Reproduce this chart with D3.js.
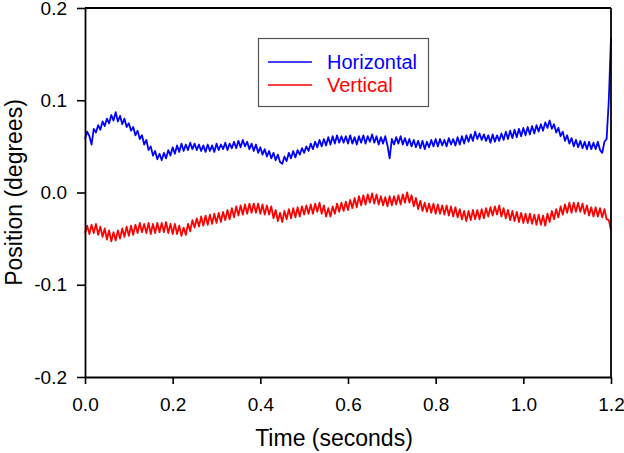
<!DOCTYPE html>
<html>
<head>
<meta charset="utf-8">
<script src="https://cdn.jsdelivr.net/npm/d3@7/dist/d3.min.js"></script>
<style>
  html, body { margin: 0; padding: 0; background: #fff; }
  svg { display: block; font-family: Arial, "Liberation Sans", sans-serif; }
</style>
</head>
<body>
<svg id="chart" width="624" height="453"></svg>
<script>
// ---- data (degrees), sampled every 0.005 s from 0 to 1.2 s ----
const sampleStep = 0.005;
const horizontal = [
  0.058,0.066,0.061,0.052,0.069,0.065,0.073,0.068,0.077,0.072,
  0.080,0.075,0.084,0.078,0.087,0.077,0.083,0.074,0.080,0.071,
  0.075,0.067,0.071,0.062,0.067,0.058,0.062,0.052,0.057,0.046,
  0.050,0.040,0.045,0.036,0.042,0.035,0.043,0.037,0.046,0.040,
  0.049,0.042,0.051,0.044,0.053,0.045,0.052,0.046,0.054,0.047,
  0.053,0.046,0.052,0.045,0.051,0.044,0.052,0.045,0.051,0.044,
  0.053,0.046,0.052,0.047,0.054,0.046,0.053,0.048,0.055,0.048,
  0.056,0.049,0.057,0.050,0.055,0.047,0.053,0.045,0.052,0.043,
  0.049,0.041,0.047,0.039,0.045,0.037,0.043,0.035,0.041,0.033,
  0.031,0.039,0.034,0.043,0.037,0.045,0.038,0.046,0.041,0.048,
  0.043,0.050,0.045,0.053,0.047,0.055,0.049,0.057,0.050,0.058,
  0.051,0.060,0.052,0.061,0.053,0.062,0.054,0.061,0.054,0.061,
  0.053,0.062,0.053,0.060,0.052,0.061,0.054,0.062,0.053,0.061,
  0.055,0.063,0.054,0.061,0.052,0.060,0.053,0.061,0.051,0.037,
  0.058,0.052,0.060,0.053,0.061,0.052,0.059,0.051,0.058,0.050,
  0.057,0.049,0.056,0.048,0.056,0.047,0.055,0.049,0.057,0.050,
  0.058,0.050,0.058,0.051,0.057,0.050,0.059,0.052,0.058,0.051,
  0.060,0.052,0.061,0.053,0.062,0.055,0.063,0.056,0.066,0.058,
  0.064,0.057,0.063,0.056,0.062,0.054,0.063,0.055,0.062,0.056,
  0.064,0.057,0.066,0.058,0.067,0.059,0.068,0.060,0.069,0.061,
  0.070,0.062,0.071,0.063,0.072,0.064,0.073,0.066,0.074,0.067,
  0.076,0.070,0.078,0.069,0.074,0.065,0.070,0.061,0.066,0.056,
  0.062,0.053,0.059,0.050,0.057,0.049,0.056,0.048,0.055,0.047,
  0.055,0.047,0.054,0.047,0.055,0.046,0.043,0.055,0.058,0.100,
  0.168
];
const vertical = [
  -0.044,-0.036,-0.045,-0.035,-0.044,-0.034,-0.046,-0.037,-0.048,-0.039,
  -0.051,-0.041,-0.053,-0.043,-0.052,-0.041,-0.050,-0.039,-0.048,-0.037,
  -0.047,-0.036,-0.046,-0.035,-0.044,-0.033,-0.043,-0.034,-0.044,-0.033,
  -0.045,-0.034,-0.044,-0.033,-0.043,-0.033,-0.043,-0.032,-0.044,-0.034,
  -0.045,-0.034,-0.045,-0.036,-0.047,-0.038,-0.046,-0.034,-0.042,-0.030,
  -0.038,-0.028,-0.037,-0.026,-0.036,-0.025,-0.035,-0.024,-0.034,-0.023,
  -0.033,-0.022,-0.032,-0.021,-0.030,-0.019,-0.029,-0.017,-0.027,-0.015,
  -0.025,-0.014,-0.024,-0.013,-0.023,-0.012,-0.022,-0.012,-0.022,-0.012,
  -0.023,-0.013,-0.024,-0.014,-0.024,-0.015,-0.028,-0.019,-0.031,-0.022,
  -0.032,-0.020,-0.029,-0.018,-0.028,-0.017,-0.027,-0.016,-0.026,-0.015,
  -0.024,-0.014,-0.023,-0.013,-0.023,-0.012,-0.021,-0.011,-0.023,-0.014,
  -0.026,-0.017,-0.026,-0.015,-0.023,-0.012,-0.021,-0.011,-0.020,-0.010,
  -0.019,-0.008,-0.017,-0.006,-0.016,-0.004,-0.014,-0.003,-0.013,-0.002,
  -0.011,-0.001,-0.012,-0.002,-0.013,-0.004,-0.014,-0.005,-0.015,-0.004,
  -0.014,-0.004,-0.013,-0.003,-0.013,-0.002,-0.011,0.000,-0.011,-0.003,
  -0.015,-0.006,-0.018,-0.009,-0.020,-0.011,-0.021,-0.012,-0.022,-0.012,
  -0.023,-0.013,-0.023,-0.014,-0.024,-0.014,-0.025,-0.015,-0.026,-0.016,
  -0.027,-0.018,-0.029,-0.020,-0.031,-0.020,-0.030,-0.019,-0.029,-0.019,
  -0.029,-0.018,-0.028,-0.017,-0.026,-0.016,-0.025,-0.015,-0.024,-0.014,
  -0.026,-0.017,-0.028,-0.019,-0.030,-0.020,-0.031,-0.021,-0.032,-0.022,
  -0.033,-0.023,-0.033,-0.023,-0.034,-0.024,-0.035,-0.024,-0.035,-0.025,
  -0.036,-0.023,-0.032,-0.020,-0.029,-0.018,-0.027,-0.015,-0.024,-0.013,
  -0.022,-0.011,-0.022,-0.011,-0.021,-0.011,-0.021,-0.012,-0.023,-0.014,
  -0.025,-0.016,-0.026,-0.016,-0.026,-0.017,-0.027,-0.018,-0.029,-0.030,
  -0.041
];
const xTicks = [0.0, 0.2, 0.4, 0.6, 0.8, 1.0, 1.2];
const yTicks = [-0.2, -0.1, 0.0, 0.1, 0.2];
const seriesNames = ["Horizontal", "Vertical"];
const seriesColors = ["#0000ff", "#ff0000"];

// ---- layout ----
const svg = d3.select("#chart");
const m = { left: 85, right: 611, top: 8, bottom: 377 };
const x = d3.scaleLinear().domain([0, 1.2]).range([m.left, m.right]);
const y = d3.scaleLinear().domain([-0.2, 0.2]).range([m.bottom, m.top]);

const fmt = v => d3.format(".1f")(v).replace("\u2212", "-");

// data lines
const series = [horizontal, vertical];
const line = d3.line()
  .x((d, i) => x(i * sampleStep))
  .y(d => y(d));
series.forEach((s, k) => {
  svg.append("path")
    .datum(s)
    .attr("fill", "none")
    .attr("stroke", seriesColors[k])
    .attr("stroke-width", 1.8)
    .attr("stroke-linejoin", "round")
    .attr("d", line);
});

// frame (top & right)
svg.append("line").attr("x1", m.left).attr("x2", m.right).attr("y1", m.top).attr("y2", m.top)
  .attr("stroke", "#000").attr("stroke-width", 1.8);
svg.append("line").attr("x1", m.right).attr("x2", m.right).attr("y1", m.top).attr("y2", m.bottom)
  .attr("stroke", "#000").attr("stroke-width", 1.8);

// axes
const xAxis = d3.axisBottom(x).tickValues(xTicks).tickFormat(fmt).tickSizeInner(7).tickSizeOuter(0).tickPadding(14);
const yAxis = d3.axisLeft(y).tickValues(yTicks).tickFormat(fmt).tickSizeInner(8).tickSizeOuter(0).tickPadding(10);

const gx = svg.append("g").attr("transform", `translate(0,${m.bottom})`).call(xAxis);
const gy = svg.append("g").attr("transform", `translate(${m.left},0)`).call(yAxis);
[gx, gy].forEach(g => {
  g.select(".domain").attr("stroke", "#000").attr("stroke-width", 1.8);
  g.selectAll(".tick line").attr("stroke", "#000").attr("stroke-width", 1.6);
  g.selectAll(".tick text").attr("fill", "#000").style("font-size", "19px")
    .style("font-family", "Arial, 'Liberation Sans', sans-serif");
});

// axis titles
svg.append("text")
  .attr("x", 334).attr("y", 446)
  .attr("text-anchor", "middle")
  .style("font-size", "23px").attr("fill", "#000")
  .text("Time (seconds)");
svg.append("text")
  .attr("transform", `translate(22,${(m.top + m.bottom) / 2}) rotate(-90)`)
  .attr("text-anchor", "middle")
  .style("font-size", "23px").attr("fill", "#000")
  .text("Position (degrees)");

// legend
const lg = svg.append("g");
lg.append("rect").attr("x", 258.5).attr("y", 38.5).attr("width", 170).attr("height", 68)
  .attr("fill", "#fff").attr("stroke", "#555").attr("stroke-width", 1.2);
seriesNames.forEach((name, k) => {
  const yy = 62 + k * 23;
  lg.append("line").attr("x1", 268).attr("x2", 312).attr("y1", yy).attr("y2", yy)
    .attr("stroke", seriesColors[k]).attr("stroke-width", 1.6);
  lg.append("text").attr("x", 327).attr("y", yy + 7)
    .style("font-size", "20px").attr("fill", seriesColors[k]).text(name);
});
</script>
</body>
</html>
